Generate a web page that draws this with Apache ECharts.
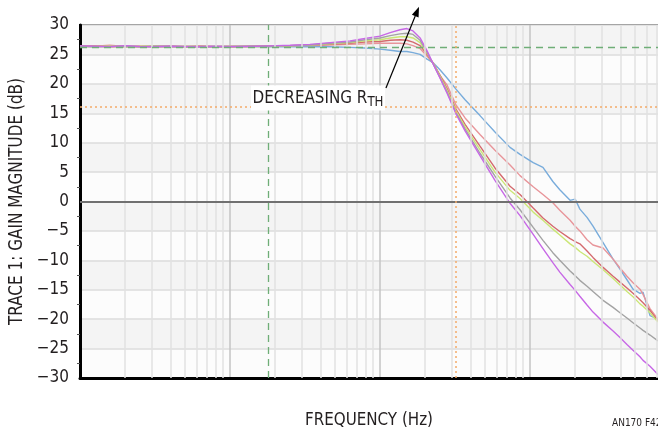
<!DOCTYPE html>
<html><head><meta charset="utf-8">
<script src="https://cdn.jsdelivr.net/npm/echarts@6/dist/echarts.min.js"></script>
<style>html,body{margin:0;padding:0;background:#fff}#c{width:658px;height:433px}</style>
</head><body><div id="c"></div>
<script>
// Frequency points (Hz) shared by all traces
const FREQ = [1000,1260,1580,2000,2510,3160,3980,5010,6310,7940,10000,13600,18500,25100,34100,46400,63100,79400,100000,117000,136000,151000,166000,185000,206000,226000,251000,280000,321000,369000,464000,584000,736000,858000,1050000,1220000,1420000,1580000,1850000,2000000,2150000,2400000,2630000,3070000,3580000,3980000,4430000,4860000,5410000,5670000,6310000,7130000];

const BLUE = [26.4,26.3,26.45,26.3,26.35,26.4,26.3,26.35,26.3,26.35,26.3,26.35,26.3,26.3,
  26.3,26.3,26.2,26.1,25.9,25.7,25.5,25.5,25.3,25.0,24.2,
  23.6,22.4,21.0,19.1,17.3,14.6,11.8,9.2,8.0,6.6,5.8,3.4,2.0,0.2,0.4,-1.3,-2.7,-4.2,-7.0,-9.8,-11.5,-13.3,-14.9,-15.6,-15.4,-19.4,-20.0];
const LTRED = [26.5,26.4,26.55,26.35,26.45,26.3,26.45,26.35,26.4,26.3,26.4,26.35,26.45,26.5,
  26.5,26.6,26.7,26.8,26.9,26.9,26.9,26.8,26.5,26.0,24.7,
  23.6,21.4,19.8,16.4,14.2,11.4,8.7,6.2,4.4,2.5,1.2,-0.2,-1.5,-3.2,-4.2,-5.0,-6.5,-7.4,-7.9,-9.8,-11.3,-12.7,-13.8,-14.9,-15.8,-18.2,-20.0];
const DKRED = [26.35,26.45,26.3,26.4,26.3,26.4,26.35,26.3,26.4,26.35,26.3,26.4,26.4,26.5,
  26.6,26.7,26.9,27.1,27.2,27.4,27.5,27.4,27.1,26.5,25.0,
  23.5,21.5,19.2,15.7,13.1,9.4,5.7,2.6,1.2,-1.1,-2.8,-4.2,-5.1,-6.3,-6.8,-7.2,-8.4,-9.5,-11.2,-12.7,-13.7,-14.7,-15.6,-16.7,-17.2,-18.5,-20.3];
const GREEN = [26.3,26.35,26.4,26.3,26.4,26.35,26.3,26.4,26.3,26.35,26.4,26.3,26.35,26.45,
  26.6,26.8,27.0,27.3,27.5,27.8,28.0,28.0,27.8,27.0,25.2,
  23.5,21.3,18.9,15.4,12.7,8.8,5.0,1.9,0.5,-1.8,-3.2,-4.7,-5.7,-7.2,-7.8,-8.5,-9.3,-10.2,-11.6,-13.1,-14.2,-15.3,-16.2,-17.4,-17.8,-18.9,-20.5];
const GRAY = [26.4,26.3,26.35,26.4,26.3,26.35,26.4,26.3,26.35,26.3,26.35,26.4,26.4,26.5,
  26.6,26.9,27.1,27.5,27.8,28.2,28.5,28.6,28.4,27.4,25.4,
  23.4,21.1,18.6,15.1,12.3,8.2,4.3,0.6,-1.4,-4.4,-6.6,-8.7,-10.0,-11.8,-12.6,-13.4,-14.4,-15.3,-16.8,-18.0,-18.9,-19.8,-20.6,-21.5,-21.9,-22.7,-23.7];
const PURPLE = [26.45,26.4,26.3,26.5,26.35,26.3,26.4,26.35,26.3,26.4,26.35,26.35,26.45,26.55,
  26.7,27.0,27.3,27.7,28.1,28.7,29.2,29.4,29.0,27.8,25.6,
  23.4,21.0,18.4,14.9,12.0,7.8,3.6,-0.3,-2.4,-5.6,-8.0,-10.4,-12.0,-14.1,-15.1,-16.1,-17.6,-18.8,-20.5,-22.0,-23.1,-24.3,-25.3,-26.4,-27.0,-28.0,-29.4];

const TRACES = [
  {name:'blue', data:BLUE, color:'#79acdb'},
  {name:'ltred', data:LTRED, color:'#e8959a'},
  {name:'dkred', data:DKRED, color:'#d46a6e'},
  {name:'green', data:GREEN, color:'#cbe676'},
  {name:'gray', data:GRAY, color:'#a3a3a3'},
  {name:'purple', data:PURPLE, color:'#c768e6'}
];

// Minor grid multipliers within each decade, and decades
const DECADES = [1000, 10000, 100000, 1000000];
const MINOR_MULT = [2,3,4,5,6,7,8,9];

// Reference lines
const REF_V_GREEN = 18100;   // Hz
const REF_V_ORANGE = 321000; // Hz
const REF_H_GREEN = 26.2;    // dB
const REF_H_ORANGE = 16.1;   // dB

// Annotation anchors in data coords
const ARROW_TAIL = [109600, 19.3];
const ARROW_TIP = [182000, 33.1];
const LABEL_POS = [38600, 17.6];

const Y_TITLE = 'TRACE 1: GAIN MAGNITUDE (dB)';
const X_TITLE = 'FREQUENCY (Hz)';
const FIG_ID = 'AN170 F42';

const FAMILY = "'Liberation Sans Narrow','DejaVu Sans Condensed','Roboto Condensed',sans-serif";
const INK = '#231f20';

const mctx = document.createElement('canvas').getContext('2d');
function textW(t, size){ mctx.font = size + 'px ' + FAMILY; return mctx.measureText(t).width; }

const minorLines = [];
DECADES.forEach(d => MINOR_MULT.forEach(m => minorLines.push({xAxis: d*m})));

const chart = echarts.init(document.getElementById('c'), null, {renderer:'canvas'});
const series = [
  {
    type:'line', data:[], silent:true, z:1,
    markLine:{silent:true, symbol:'none', animation:false, label:{show:false},
      lineStyle:{color:'#e2e2e2', width:1.5, type:'solid'},
      data: minorLines}
  },
  {
    type:'line', data:[], silent:true, z:2,
    markLine:{silent:true, symbol:'none', animation:false, label:{show:false},
      data:[
        {yAxis:0, lineStyle:{color:'#707070', width:2, type:'solid'}},
        {xAxis:REF_V_GREEN, lineStyle:{color:'#6fae77', width:1.3, type:[7,5]}},
        {yAxis:REF_H_GREEN, lineStyle:{color:'#6fae77', width:1.3, type:[7,5]}},
        {xAxis:REF_V_ORANGE, lineStyle:{color:'#f2aa6a', width:1.5, type:[2,3]}},
        {yAxis:REF_H_ORANGE, lineStyle:{color:'#f2aa6a', width:1.5, type:[2,3]}}
      ]}
  }
];
TRACES.forEach(t => series.push({
  type:'line', name:t.name, z:3, symbol:'none', showSymbol:false, animation:false,
  lineStyle:{color:t.color, width:1.4}, itemStyle:{color:t.color},
  data: FREQ.map((f,i)=>[f, t.data[i]])
}));

chart.setOption({
  animation:false,
  backgroundColor:'#fff',
  grid:{left:80, top:25, width:600, height:353, containLabel:false, outerBoundsMode:'none',
    show:true, borderColor:'#000', borderWidth:2, backgroundColor:'#fff'},
  xAxis:{type:'log', logBase:10, min:1000, max:10000000, splitNumber:4,
    axisLine:{show:true, onZero:false, lineStyle:{color:'#000', width:3}},
    axisTick:{show:false}, axisLabel:{show:false},
    splitLine:{show:true, lineStyle:{color:'#c4c4c4', width:1.5}}
  },
  yAxis:{type:'value', min:-30, max:30, interval:5,
    axisLine:{show:true, lineStyle:{color:'#000', width:3}},
    axisTick:{show:false},
    minorTick:{show:true, splitNumber:2, length:3, lineStyle:{color:'#555', width:1}},
    axisLabel:{color:INK, fontSize:17, fontFamily:FAMILY, margin:11,
      formatter: v => String(v).replace('-', '\u2212')},
    splitLine:{show:true, lineStyle:{color:'#dcdcdc', width:1.5}},
    splitArea:{show:true, areaStyle:{color:['#fcfcfc','#f4f4f4']}}
  },
  series: series
});

const tail = chart.convertToPixel({gridIndex:0}, ARROW_TAIL);
const tip = chart.convertToPixel({gridIndex:0}, ARROW_TIP);
const lbl = chart.convertToPixel({gridIndex:0}, LABEL_POS);
const dx = tip[0]-tail[0], dy = tip[1]-tail[1];
const L = Math.hypot(dx,dy), ux = dx/L, uy = dy/L;
const hl = 10, hw = 3.6;
const bx = tip[0]-hl*ux, by = tip[1]-hl*uy;

// fit text lengths to the reference
const yTitleSize = 19;
const yTitleScale = 247 / textW(Y_TITLE, yTitleSize);
const annSize = 18, annSub = 14;
const annScale = 131 / (textW('DECREASING R', annSize) + textW('TH', annSub));
const xTitleSize = 18;
const xTitleScale = 128 / textW(X_TITLE, xTitleSize);

chart.setOption({
  graphic:[
    {type:'line', shape:{x1:tail[0], y1:tail[1], x2:bx, y2:by}, style:{stroke:'#000', lineWidth:1.2}, z:10},
    {type:'polygon', shape:{points:[[tip[0],tip[1]],[bx - hw*uy, by + hw*ux],[bx + hw*uy, by - hw*ux]]}, style:{fill:'#000'}, z:10},
    {type:'rect', shape:{x:lbl[0]-67, y:lbl[1]-12.5, width:134, height:25}, style:{fill:'#fff'}, z:10},
    {type:'text', x:lbl[0], y:lbl[1], z:11, scaleX:annScale,
      style:{text:'{a|DECREASING R}{s|TH}', align:'center', verticalAlign:'middle',
        rich:{a:{fontSize:annSize, fontFamily:FAMILY, fill:INK, height:22},
              s:{fontSize:annSub, fontFamily:FAMILY, fill:INK, padding:[9,0,0,0], height:22}}}},
    {type:'text', x:17.5, y:201.5, rotation:Math.PI/2, scaleX:yTitleScale, z:11,
      style:{text:Y_TITLE, align:'center', verticalAlign:'middle', fontSize:yTitleSize, fontFamily:FAMILY, fill:INK}},
    {type:'text', x:369, y:420, scaleX:xTitleScale,
      style:{text:X_TITLE, align:'center', verticalAlign:'middle', fontSize:xTitleSize, fontFamily:FAMILY, fill:INK}},
    {type:'text', x:612, y:423, style:{text:FIG_ID, align:'left', verticalAlign:'middle', fontSize:10, fontFamily:FAMILY, fill:INK}}
  ]
});
</script>
</body></html>
